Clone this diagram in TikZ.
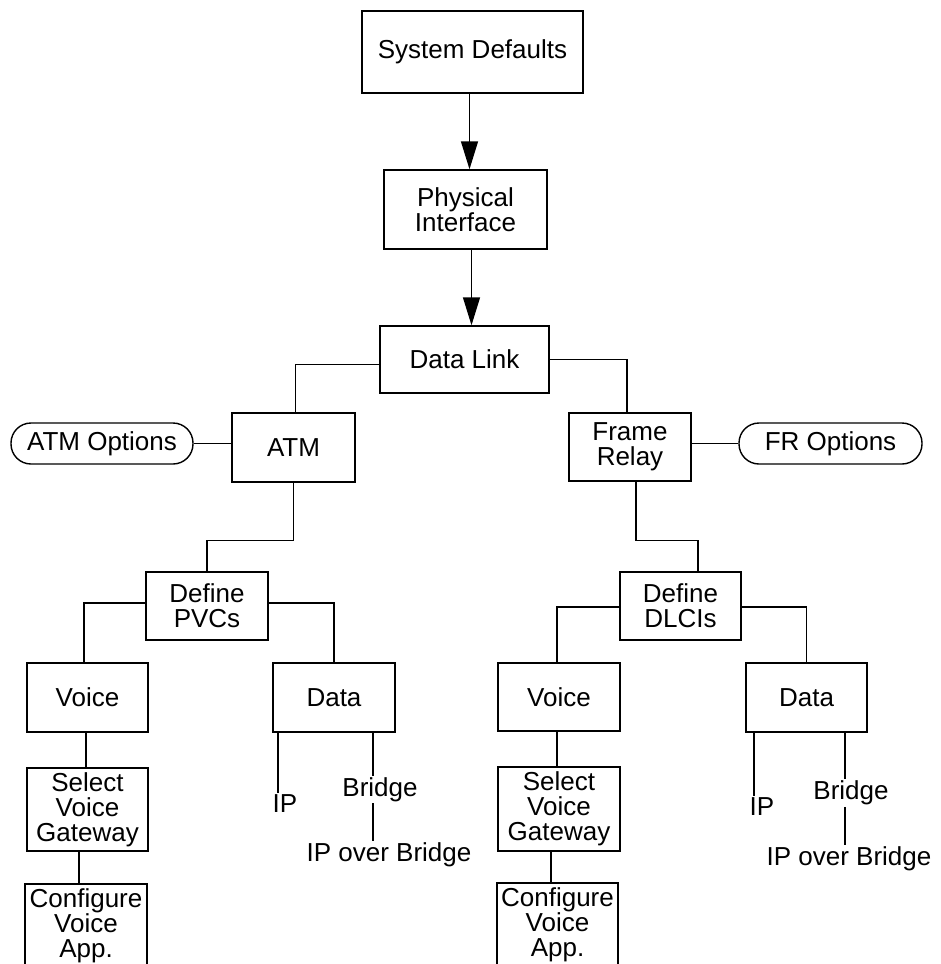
\documentclass[tikz,border=0pt]{standalone}
\usepackage{fontspec}
\setmainfont{Liberation Sans}
\usetikzlibrary{arrows.meta,calc}
\newcommand\tfont{\fontsize{26}{25}\selectfont}
\begin{document}
\begin{tikzpicture}[
  x=1pt,y=-1pt,
  box/.style={draw, line width=1.4pt, align=center, inner sep=0pt, font=\tfont},
  pill/.style={box, rounded corners=20pt},
  lbl/.style={inner sep=1.5pt, font=\tfont},
  conn/.style={line width=1.4pt},
  arr/.style={-{Triangle[length=28pt,width=17pt]}}
]
\useasboundingbox (0,0) rectangle (940,964);
\clip (0,0) rectangle (940,964);

\node[box, minimum width=221pt, minimum height=82pt] (sys) at (472.5,52) {System Defaults};
\node[box, minimum width=163pt, minimum height=79pt] (phys) at (465.5,209.5) {Physical\\Interface};
\node[box, minimum width=169pt, minimum height=67pt] (dl) at (464.5,359.5) {Data Link};
\node[box, minimum width=123pt, minimum height=69pt] (atm) at (293.5,447.5) {ATM};
\node[pill, minimum width=182pt, minimum height=41pt] (atmopt) at (102,443.5) {ATM Options};
\node[box, minimum width=122pt, minimum height=68pt] (fr) at (630,447) {Frame\\Relay};
\node[pill, minimum width=183pt, minimum height=41pt] (fropt) at (830.5,443.5) {FR Options};
\node[box, minimum width=122pt, minimum height=68pt] (pvc) at (207,606) {Define\\PVCs};
\node[box, minimum width=121pt, minimum height=68pt] (dlci) at (680.5,606) {Define\\DLCIs};
\node[box, minimum width=121pt, minimum height=69pt] (v1) at (87.5,697.5) {Voice};
\node[box, minimum width=122pt, minimum height=69pt] (d1) at (334,697.5) {Data};
\node[box, minimum width=122pt, minimum height=68pt] (v2) at (559,697) {Voice};
\node[box, minimum width=121pt, minimum height=69pt] (d2) at (806.5,697.5) {Data};
\node[box, minimum width=121pt, minimum height=83pt] (s1) at (87.5,809.5) {Select\\Voice\\Gateway};
\node[box, minimum width=122pt, minimum height=84pt] (s2) at (559,809) {Select\\Voice\\Gateway};
\node[box, minimum width=122pt, minimum height=84pt] (c1) at (86,926) {Configure\\Voice\\App.};
\node[box, minimum width=121pt, minimum height=84pt] (c2) at (557.5,925) {Configure\\Voice\\App.};

\node[lbl] (ip1) at (285,804) {IP};
\node[lbl] (br1) at (380,789.5) {Bridge};
\node[lbl] (iob1) at (389,855) {IP over Bridge};
\node[lbl] (ip2) at (762,807) {IP};
\node[lbl] (br2) at (851,793) {Bridge};
\node[lbl] (iob2) at (849,859) {IP over Bridge};

\draw[conn,arr] ([xshift=-3pt]sys.south) -- ([xshift=-3pt]sys.south |- phys.north);
\draw[conn,arr] ([xshift=6pt]phys.south) -- ([xshift=6pt]phys.south |- dl.north);
\draw[conn] ([yshift=-5pt]dl.west) -| ([xshift=2pt]atm.north);
\draw[conn] (dl.east) -| ([xshift=-3pt]fr.north);
\draw[conn] (atmopt.east) -- (atmopt.east -| atm.west);
\draw[conn] (fropt.west) -- (fropt.west -| fr.east);
\draw[conn] (atm.south) -- ++(0,58) -| (pvc.north);
\draw[conn] ([xshift=6pt]fr.south) -- ++(0,59) -| ([xshift=17.5pt]dlci.north);
\draw[conn] ([yshift=3pt]pvc.west) -| ([xshift=-3.5pt]v1.north);
\draw[conn] ([yshift=3pt]pvc.east) -| (d1.north);
\draw[conn] ([yshift=-1pt]dlci.west) -| ([xshift=-2pt]v2.north);
\draw[conn] ([yshift=-1pt]dlci.east) -| (d2.north);
\draw[conn] ([xshift=-1.5pt]v1.south) -- ([xshift=-1.5pt]v1.south |- s1.north);
\draw[conn] ([xshift=-8.5pt]s1.south) -- ([xshift=-8.5pt]s1.south |- c1.north);
\draw[conn] ([xshift=-2pt]v2.south) -- ([xshift=-2pt]v2.south |- s2.north);
\draw[conn] ([xshift=-8pt]s2.south) -- ([xshift=-8pt]s2.south |- c2.north);
\draw[conn] ([xshift=-56pt]d1.south) -- ([xshift=-56pt]d1.south |- ip1.north);
\draw[conn] ([xshift=39pt]d1.south) -- ([xshift=39pt]d1.south |- br1.north);
\draw[conn] ([xshift=39pt]d1.south |- br1.south) -- ([xshift=39pt]d1.south |- iob1.north);
\draw[conn] ([xshift=-52.5pt]d2.south) -- ([xshift=-52.5pt]d2.south |- ip2.north);
\draw[conn] ([xshift=38.5pt]d2.south) -- ([xshift=38.5pt]d2.south |- br2.north);
\draw[conn] ([xshift=38.5pt]d2.south |- br2.south) -- ([xshift=38.5pt]d2.south |- iob2.north);
\end{tikzpicture}
\end{document}
